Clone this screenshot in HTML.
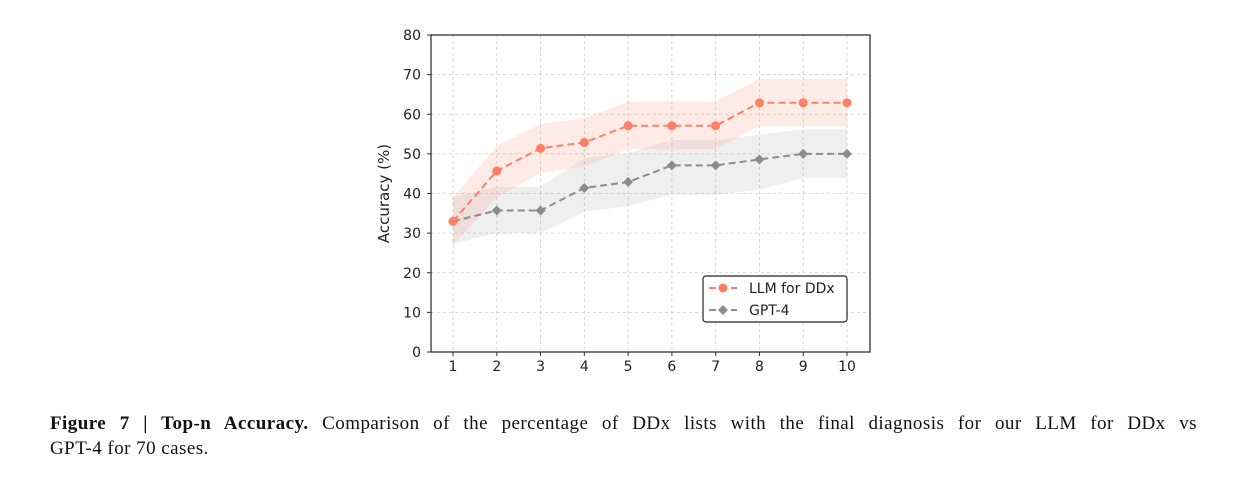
<!DOCTYPE html>
<html><head><meta charset="utf-8"><style>
body{margin:0;background:#fff;width:1253px;height:485px;overflow:hidden;position:relative;font-family:"DejaVu Sans",sans-serif}
#cap{position:absolute;left:50px;top:411px;width:1147px;font-family:"Liberation Serif",serif;font-size:19px;line-height:25px;color:#111;letter-spacing:0.45px}
#cap .l1{display:block;text-align:justify;text-align-last:justify;white-space:nowrap}
</style></head><body>
<svg id="chart" width="1253" height="400" style="position:absolute;left:0;top:0" font-family="DejaVu Sans, sans-serif"></svg>
<div id="cap"><span class="l1"><b>Figure 7 | Top-n Accuracy.</b> Comparison of the percentage of DDx lists with the final diagnosis for our LLM for DDx vs</span>GPT-4 for 70 cases.</div>
<script>
const categories=[1,2,3,4,5,6,7,8,9,10];
const llmValues=[33,45.7,51.4,52.9,57.1,57.1,57.1,62.9,62.9,62.9];
const llmUpper=[39,52,57.6,59,63.2,63.2,63.2,68.9,68.9,68.9];
const llmLower=[27,39,45.2,46.8,51.2,51.2,51.2,57,57,57];
const gptValues=[33,35.7,35.7,41.4,42.9,47.1,47.1,48.6,50,50];
const gptUpper=[39,41.7,41.7,48.9,50.2,53.5,53.5,54.8,56.2,56.2];
const gptLower=[27.3,30,30,35.4,36.8,39.7,39.7,41,43.9,43.9];
const yTicks=[0,10,20,30,40,50,60,70,80];
const NS="http://www.w3.org/2000/svg";
const svg=document.getElementById('chart');
const L=431,R=870,T=35,B=352;
const xs=c=>453+(c-1)*(847-453)/9;
const ys=v=>B-(v/80)*(B-T);
function mk(tag,attrs,parent){const e=document.createElementNS(NS,tag);for(const k in attrs)e.setAttribute(k,attrs[k]);(parent||svg).appendChild(e);return e;}
yTicks.forEach(v=>{const l=mk('line',{x1:L,x2:R,y1:ys(v),y2:ys(v),stroke:'#ccc','stroke-dasharray':'3,3','stroke-width':0.8});


mk('line',{x1:L-4,x2:L,y1:ys(v),y2:ys(v),stroke:'#333'});
const t=mk('text',{x:L-10,y:ys(v)+5,'text-anchor':'end','font-size':14,fill:'#222'});t.textContent=v;

});
categories.forEach(c=>{const l=mk('line',{x1:xs(c),x2:xs(c),y1:T,y2:B,stroke:'#ccc','stroke-dasharray':'3,3','stroke-width':0.8});


mk('line',{x1:xs(c),x2:xs(c),y1:B,y2:B+4,stroke:'#333'});
const t=mk('text',{x:xs(c),y:B+19,'text-anchor':'middle','font-size':14,fill:'#222'});t.textContent=c;

});
function band(up,lo,fill,name){const pts=categories.map((c,i)=>xs(c)+','+ys(up[i])).concat(categories.map((c,i)=>xs(c)+','+ys(lo[i])).reverse());
const p=mk('polygon',{points:pts.join(' '),fill:fill});

}
band(llmUpper,llmLower,'rgba(255,120,90,0.15)','llm-ci-band');
band(gptUpper,gptLower,'rgba(150,150,150,0.15)','gpt4-ci-band');
function series(vals,color,marker,name){const p=mk('polyline',{points:categories.map((c,i)=>xs(c)+','+ys(vals[i])).join(' '),fill:'none',stroke:color,'stroke-width':2,'stroke-dasharray':'7,4'});


categories.forEach((c,i)=>{let m;if(marker==='o')m=mk('circle',{cx:xs(c),cy:ys(vals[i]),r:4.5,fill:color});
else{const x=xs(c),y=ys(vals[i]);m=mk('polygon',{points:`${x},${y-5} ${x+5},${y} ${x},${y+5} ${x-5},${y}`,fill:color});}

});}
series(gptValues,'#8c8c8c','d','gpt4');
series(llmValues,'#ff7f66','o','llm');
const fr=mk('rect',{x:L,y:T,width:R-L,height:B-T,fill:'none',stroke:'#222','stroke-width':1.2});


const yl=mk('text',{x:0,y:0,transform:`translate(389,${(T+B)/2}) rotate(-90)`,'text-anchor':'middle','font-size':15,fill:'#222'});yl.textContent='Accuracy (%)';


const lg=mk('g',{});


mk('rect',{x:703,y:276,width:144,height:46,rx:3,fill:'#fff',stroke:'#222','stroke-width':1.2},lg);
mk('line',{x1:709,x2:737,y1:288,y2:288,stroke:'#ff7f66','stroke-width':2,'stroke-dasharray':'7,4'},lg);
mk('circle',{cx:723,cy:288,r:4.5,fill:'#ff7f66'},lg);
const t1=mk('text',{x:749,y:293,'font-size':14,fill:'#222'},lg);t1.textContent='LLM for DDx';
mk('line',{x1:709,x2:737,y1:310,y2:310,stroke:'#8c8c8c','stroke-width':2,'stroke-dasharray':'7,4'},lg);
mk('polygon',{points:'723,305 728,310 723,315 718,310',fill:'#8c8c8c'},lg);
const t2=mk('text',{x:749,y:315,'font-size':14,fill:'#222'},lg);t2.textContent='GPT-4';
</script>
</body></html>
